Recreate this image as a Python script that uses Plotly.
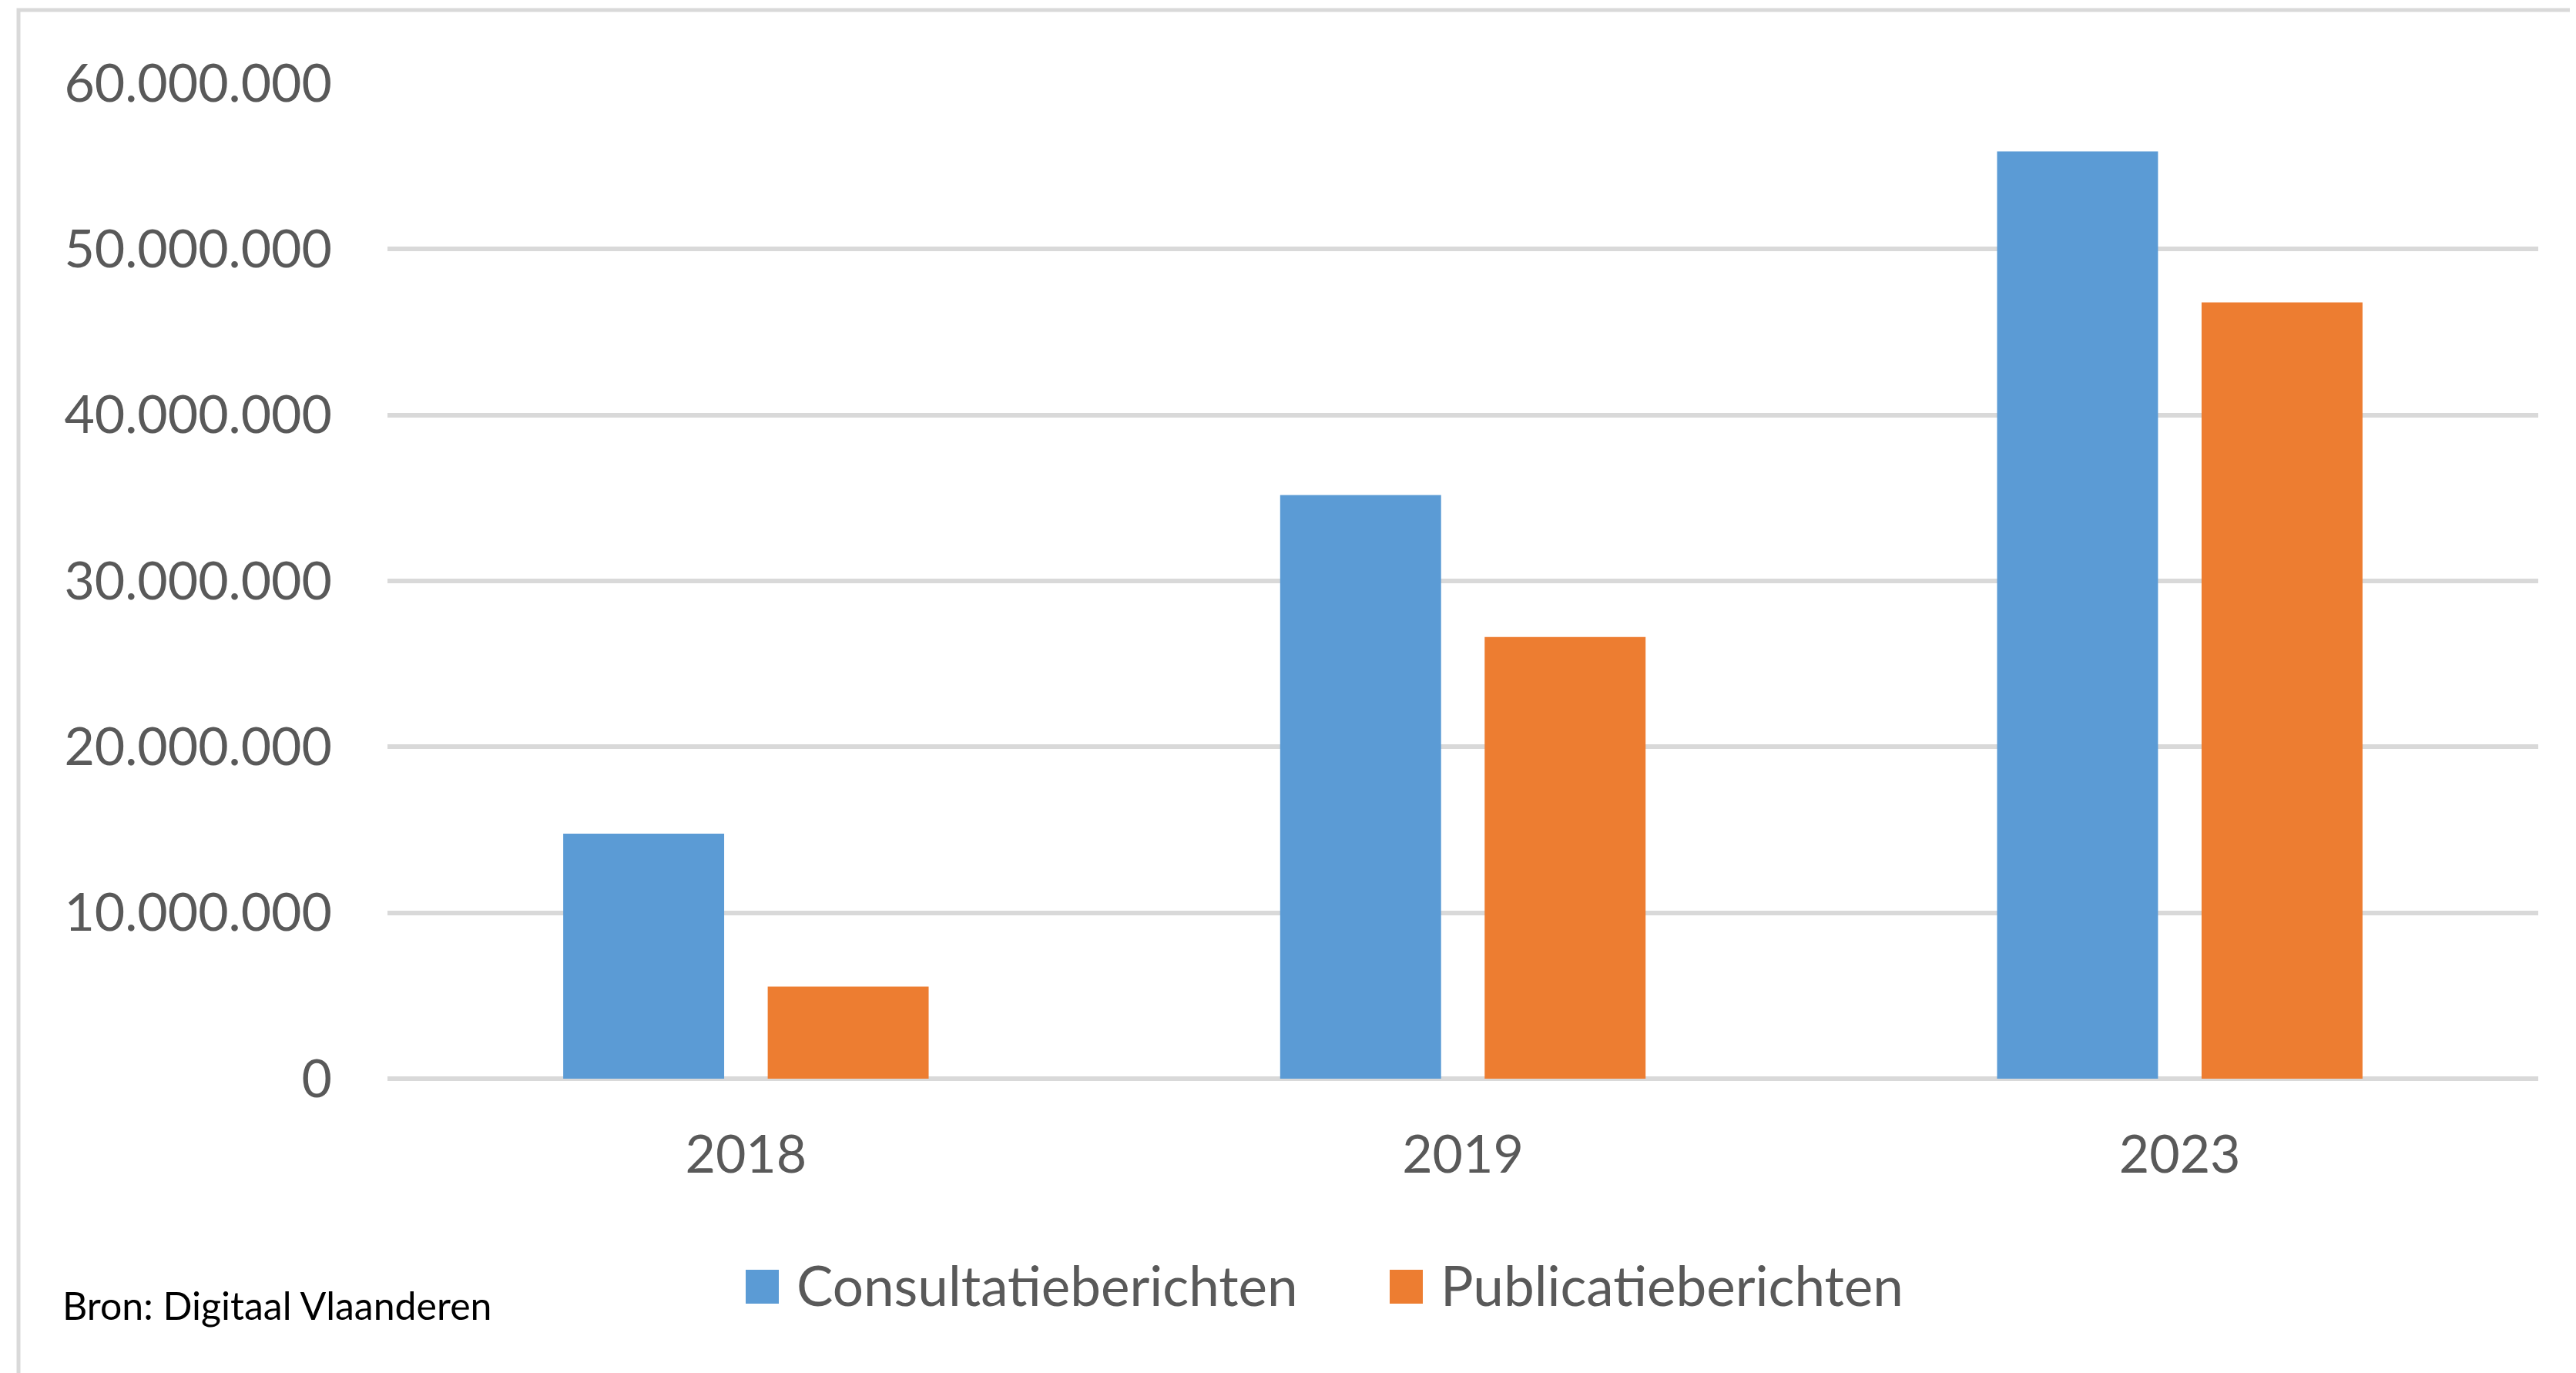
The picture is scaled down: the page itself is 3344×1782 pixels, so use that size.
import plotly.graph_objects as go

# ---- data ----
years = ["2018", "2019", "2023"]
series_names = ["Consultatieberichten", "Publicatieberichten"]
consultatie = [14_770_000, 35_180_000, 55_890_000]
publicatie = [5_550_000, 26_620_000, 46_790_000]
y_ticks = [0, 10_000_000, 20_000_000, 30_000_000, 40_000_000, 50_000_000, 60_000_000]
source_text = "Bron: Digitaal Vlaanderen"

# ---- style ----
W, H = 3344, 1782
OFF = 8  # page body margin in the browser
PL, PR, PT, PB = 503, 3295, 108, 1400  # target plot-area edges in screen pixels
L, R, T, B = PL - OFF, W - (PR - OFF), PT - OFF, H - (PB - OFF)
colors = ["#5B9BD5", "#ED7D31"]
grid = "#D9D9D9"
txt = "#595959"
FONT = "Lato"

pw, ph = PR - PL, PB - PT
def px(x):
    return (x - PL) / pw
def py(y):
    return (PB - y) / ph

fig = go.Figure()
for name, vals, col in zip(series_names, [consultatie, publicatie], colors):
    fig.add_trace(go.Bar(x=years, y=vals, name=name, marker=dict(color=col, line=dict(width=0)),
                         showlegend=False))

shapes = [
    # outer chart border (left & top visible, rest cropped)
    dict(type="rect", xref="paper", yref="paper", x0=px(24), x1=px(3420), y0=py(1900), y1=py(13),
         line=dict(color=grid, width=5), fillcolor="rgba(0,0,0,0)", layer="below"),
]
annotations = []
# manual legend
leg = [(968, 1032), (1804, 1868)]
for (sx, tx), name, col in zip(leg, series_names, colors):
    shapes.append(dict(type="rect", xref="paper", yref="paper", x0=px(sx), x1=px(sx + 43),
                       y0=py(1692), y1=py(1648), fillcolor=col, line=dict(width=0)))
    annotations.append(dict(xref="paper", yref="paper", x=px(tx), y=py(1667), text=name,
                            showarrow=False, xanchor="left", yanchor="middle",
                            font=dict(family=FONT, size=71, color=txt)))
annotations.append(dict(xref="paper", yref="paper", x=px(79), y=py(1694), text=source_text,
                        showarrow=False, xanchor="left", yanchor="middle",
                        font=dict(family=FONT, size=50, color="#000000")))

fig.update_layout(
    width=W, height=H,
    margin=dict(l=L, r=R, t=T, b=B, pad=0),
    paper_bgcolor="white", plot_bgcolor="white",
    separators=",.",
    barmode="group", bargap=0.4295, bargroupgap=0.213,
    font=dict(family=FONT, size=68, color=txt),
    shapes=shapes, annotations=annotations,
    showlegend=False,
)
fig.update_yaxes(range=[0, 60_000_000], tickvals=y_ticks, tickformat=",d",
                 showgrid=True, gridcolor=grid, gridwidth=6,
                 zeroline=True, zerolinecolor=grid, zerolinewidth=6,
                 showline=False, ticks="", ticklabelstandoff=71,
                 tickfont=dict(family=FONT, size=68, color=txt))
fig.update_xaxes(showgrid=False, showline=False, ticks="", ticklabelstandoff=53,
                 tickfont=dict(family=FONT, size=68, color=txt))

fig.write_html("out.html")
